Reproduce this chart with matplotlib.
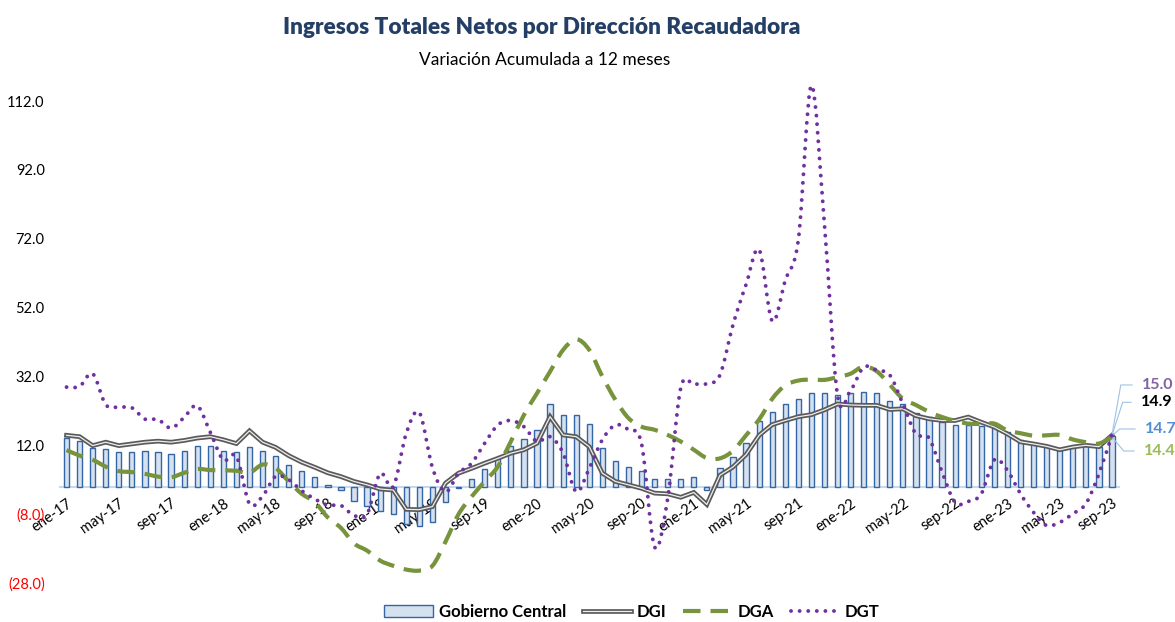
import numpy as np
import matplotlib
matplotlib.use('Agg')
import matplotlib.pyplot as plt
from matplotlib.path import Path
from matplotlib.patches import PathPatch, Patch
from matplotlib.lines import Line2D
from matplotlib.legend_handler import HandlerTuple

plt.rcParams['font.family'] = ['Lato', 'DejaVu Sans']

meses = ['ene', 'feb', 'mar', 'abr', 'may', 'jun', 'jul', 'ago', 'sep', 'oct', 'nov', 'dic']
periodos = [f'{m}-{a:02d}' for a in range(17, 24) for m in meses][:81]

# variacion acumulada a 12 meses (%)
gobierno_central = [14.0, 13.1, 11.2, 10.9, 10.0, 10.0, 10.4, 10.0, 9.4, 10.4, 11.7, 11.7,
                    10.4, 10.0, 11.6, 10.4, 8.9, 6.3, 4.5, 2.7, 0.4, -1.1, -4.3, -5.6,
                    -7.0, -8.0, -11.0, -11.5, -10.2, -4.6, -0.5, 2.2, 5.0, 8.4, 11.9, 13.8,
                    16.4, 24.0, 20.9, 20.9, 18.2, 11.1, 7.3, 5.6, 4.6, 2.2, 2.2, 2.2,
                    2.7, -1.1, 5.4, 8.6, 12.7, 19.0, 21.8, 24.0, 25.3, 27.1, 27.1, 26.6,
                    27.1, 27.5, 27.1, 24.8, 24.0, 21.3, 20.3, 18.9, 18.0, 18.0, 17.7, 17.1,
                    15.8, 13.4, 12.3, 11.9, 10.9, 11.6, 12.1, 11.6, 14.7]
dgi = [14.9, 14.5, 11.9, 12.9, 11.9, 12.4, 12.9, 13.2, 12.9, 13.4, 14.1, 14.5,
       13.6, 12.5, 16.2, 12.9, 11.4, 9.0, 7.1, 5.6, 4.0, 2.9, 1.5, 0.5,
       -0.7, -1.0, -6.6, -6.7, -5.8, 1.0, 3.9, 5.3, 6.8, 8.2, 9.7, 10.7,
       12.6, 20.3, 15.0, 14.5, 11.6, 3.9, 1.5, 0.5, -0.5, -1.9, -2.1, -3.1,
       -1.7, -5.2, 3.3, 5.7, 9.3, 14.9, 18.0, 19.2, 20.3, 20.9, 22.3, 24.0,
       23.7, 23.6, 23.6, 22.4, 22.6, 20.6, 19.7, 19.2, 19.2, 20.2, 18.7, 17.3,
       15.3, 13.0, 12.4, 11.7, 10.7, 11.5, 12.0, 11.6, 14.9]
dga = [10.6, 9.0, 7.8, 5.8, 4.5, 4.2, 3.7, 2.9, 2.7, 4.0, 5.1, 4.8,
       4.7, 4.6, 4.0, 6.4, 5.4, 1.5, -2.1, -4.5, -9.0, -12.0, -16.5, -18.6,
       -21.5, -23.0, -24.1, -24.4, -23.0, -16.0, -8.0, -2.9, 1.5, 5.8, 13.1, 20.8,
       27.1, 33.4, 39.7, 42.8, 39.7, 32.0, 25.2, 19.9, 17.4, 16.5, 15.0, 13.1,
       10.7, 8.3, 8.2, 10.4, 14.9, 19.5, 25.5, 29.4, 30.8, 31.1, 31.0, 31.8,
       32.8, 34.9, 33.5, 29.6, 25.5, 23.7, 21.7, 20.2, 19.1, 18.3, 18.2, 18.3,
       16.3, 15.5, 14.8, 14.9, 15.0, 13.7, 12.9, 12.5, 14.4]
dgt = [28.9, 29.1, 32.8, 23.8, 23.1, 22.9, 19.6, 19.5, 17.0, 20.1, 23.5, 15.8,
       7.7, 8.8, -5.0, -2.8, 3.0, 2.0, -1.2, -3.6, -5.4, -5.5, -8.4, -8.0,
       3.8, 0.0, 15.5, 21.5, 5.5, -1.5, 3.9, 6.8, 12.6, 17.9, 19.2, 17.4,
       13.1, 14.5, 9.7, -1.5, 5.3, 13.6, 17.9, 16.5, 12.5, -17.5, -3.5, 28.6,
       29.7, 29.9, 32.4, 47.0, 58.7, 68.8, 48.1, 59.9, 71.7, 116.5, 76.0, 26.5,
       28.0, 34.7, 33.8, 32.4, 24.0, 15.3, 14.1, 4.2, -4.6, -4.3, -2.1, 7.8,
       4.7, -2.1, -7.5, -11.3, -10.4, -7.9, -5.0, 3.7, 15.0]

yticks = [-28, -8, 12, 32, 52, 72, 92, 112]
etiquetas_finales = ['15.0', '14.9', '14.7', '14.4']


def suave(x, y):
    # curva suavizada tipo Excel (Catmull-Rom como Bezier cubica)
    p = np.column_stack([np.asarray(x, float), np.asarray(y, float)])
    ext = np.vstack([p[0], p, p[-1]])
    verts = [p[0]]
    codes = [Path.MOVETO]
    for k in range(len(p) - 1):
        p0, p1, p2, p3 = ext[k], ext[k + 1], ext[k + 2], ext[k + 3]
        verts += [p1 + (p2 - p0) / 6.0, p2 - (p3 - p1) / 6.0, p2]
        codes += [Path.CURVE4] * 3
    return Path(verts, codes)


x = np.arange(len(periodos))

fig = plt.figure(figsize=(11.75, 6.22), dpi=100)
ax = fig.add_axes([60 / 1175, 39 / 622, 1058.5 / 1175, 503 / 622])

ax.bar(x, gobierno_central, width=0.4, color='#D5E1EF', edgecolor='#3465A4',
       linewidth=1.0, zorder=2)

ax.plot(x, dgi, color='#5A5A5A', lw=3.4, zorder=3, solid_joinstyle='miter')
ax.plot(x, dgi, color='#EEEEEE', lw=0.9, zorder=3.1)

ax.add_patch(PathPatch(suave(x, dga), fill=False, edgecolor='#77933C', lw=3.0,
                       linestyle=(0, (4.2, 2.4)), capstyle='butt', zorder=4))
ax.add_patch(PathPatch(suave(x, dgt), fill=False, edgecolor='#7030A0', lw=2.8,
                       linestyle=(0, (0.01, 2.2)), capstyle='round', zorder=5))

ax.set_xlim(-0.5, len(periodos) - 0.5)
ax.set_ylim(-28, 118.1)

for s in ['left', 'right', 'top']:
    ax.spines[s].set_visible(False)
ax.spines['bottom'].set_position(('data', 0))
ax.spines['bottom'].set_color('#C6D9F1')
ax.spines['bottom'].set_linewidth(1.5)
ax.spines['bottom'].set_zorder(1)

ax.set_xticks(x[::4])
ax.set_xticklabels(periodos[::4], fontsize=10.5, rotation=35, ha='right',
                   rotation_mode='anchor')
ax.tick_params(axis='x', length=0, pad=7)

ax.set_yticks(yticks)
ax.set_yticklabels([f'{v:.1f}' if v >= 0 else f'({abs(v):.1f})' for v in yticks],
                   fontsize=10.5)
ax.tick_params(axis='y', length=0, pad=11)
for lab, v in zip(ax.get_yticklabels(), yticks):
    if v < 0:
        lab.set_color('#FF0000')

# etiquetas del ultimo dato
finales = [(dgt, etiquetas_finales[0], '#8064A2', (30, 50), 80),
           (dgi, etiquetas_finales[1], '#000000', (29, 33), 72),
           (gobierno_central, etiquetas_finales[2], '#4F8FD8', (33, 7), 42),
           (dga, etiquetas_finales[3], '#9BBB59', (32, -14), -50)]
for serie, txt, col, off, ang in finales:
    ax.annotate(txt, xy=(x[-1], serie[-1]), xytext=off, textcoords='offset pixels',
                ha='left', va='center', fontsize=11.5, fontweight='bold', color=col,
                annotation_clip=False,
                arrowprops=dict(arrowstyle='-', color='#9DC3E6', lw=0.8,
                                relpos=(0, 0.5), shrinkA=5, shrinkB=0,
                                connectionstyle=f'angle,angleA=0,angleB={ang},rad=0'))

fig.text(542 / 1175, 1 - 27 / 622, 'Ingresos Totales Netos por Dirección Recaudadora',
         ha='center', va='center', fontsize=16.3, fontweight='heavy', color='#243F66')
fig.text(545 / 1175, 1 - 60 / 622, 'Variación Acumulada a 12 meses',
         ha='center', va='center', fontsize=12.5, color='#000000')

handles = [Patch(facecolor='#D5E1EF', edgecolor='#3465A4', lw=1.0),
           (Line2D([], [], color='#5A5A5A', lw=3.4), Line2D([], [], color='#EEEEEE', lw=0.9)),
           Line2D([], [], color='#77933C', lw=3.0, linestyle=(0, (4.2, 2.4))),
           Line2D([], [], color='#7030A0', lw=2.8, linestyle=(0, (0.01, 2.2)),
                  dash_capstyle='round')]
fig.legend(handles, ['Gobierno Central', 'DGI', 'DGA', 'DGT'], loc='center',
           bbox_to_anchor=(632 / 1175, 10 / 622), ncol=4, frameon=False,
           prop={'weight': 'bold', 'size': 12}, handlelength=2.9,
           handletextpad=0.36, columnspacing=1.0,
           handler_map={tuple: HandlerTuple(ndivide=1)})

fig.savefig('out.png', dpi=100)
